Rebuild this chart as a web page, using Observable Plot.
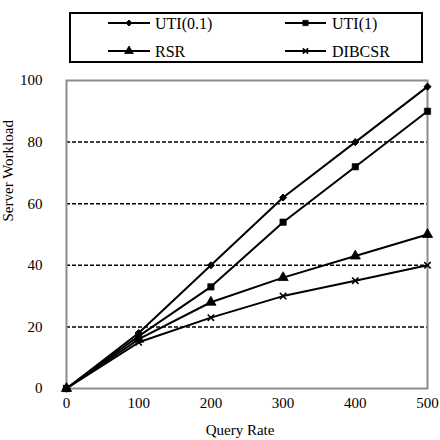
<!DOCTYPE html>
<html>
<head>
<meta charset="utf-8">
<script src="https://cdn.jsdelivr.net/npm/d3@7"></script>
<script src="https://cdn.jsdelivr.net/npm/@observablehq/plot@0.6"></script>
<style>
  html, body { margin: 0; padding: 0; background: #fff; }
  #wrap { width: 440px; height: 440px; font-family: "Liberation Serif", "DejaVu Serif", serif; }
</style>
</head>
<body>
<div id="wrap"></div>
<script>
const queryRates = [0, 100, 200, 300, 400, 500];
const uti01 = [0, 18, 40, 62, 80, 98];
const uti1 = [0, 17, 33, 54, 72, 90];
const rsr = [0, 16, 28, 36, 43, 50];
const dibcsr = [0, 15, 23, 30, 35, 40];
const seriesNames = ["UTI(0.1)", "UTI(1)", "RSR", "DIBCSR"];
const seriesSymbols = ["diamond2", "square", "triangle", "times"];
const xTicks = [0, 100, 200, 300, 400, 500];
const yTicks = [0, 20, 40, 60, 80, 100];
const gridValues = [20, 40, 60, 80];
const xTitle = "Query Rate";
const yTitle = "Server Workload";

const seriesValues = [uti01, uti1, rsr, dibcsr];
const data = [];
seriesNames.forEach((name, i) => {
  queryRates.forEach((q, j) => data.push({series: name, rate: q, load: seriesValues[i][j]}));
});

const font = "'Liberation Serif', 'DejaVu Serif', serif";
const wrap = document.getElementById("wrap");
const markerR = {"diamond2": 3.2, "square": 3.6, "triangle": 3.8, "times": 3};
const markerSW = {"diamond2": 1, "square": 0.6, "triangle": 0.8, "times": 1.6};

// Legend (above the plot)
const legendH = 78;
const leg = d3.create("svg").attr("width", 440).attr("height", legendH).style("display", "block");
leg.append("rect").attr("x", 70).attr("y", 13).attr("width", 352).attr("height", 49)
  .attr("fill", "none").attr("stroke", "black").attr("stroke-width", 2);
const symMap = {diamond2: d3.symbolDiamond2, square: d3.symbolSquare, triangle: d3.symbolTriangle, times: d3.symbolTimes};
const slots = [
  {x0: 108, x1: 150, y: 23, tx: 155},
  {x0: 285, x1: 326, y: 23, tx: 332},
  {x0: 108, x1: 150, y: 51, tx: 155},
  {x0: 285, x1: 326, y: 51, tx: 332}
];
seriesNames.forEach((name, i) => {
  const s = slots[i];
  const sym = seriesSymbols[i];
  const g = leg.append("g");
  g.append("line").attr("x1", s.x0).attr("x2", s.x1).attr("y1", s.y).attr("y2", s.y)
    .attr("stroke", "black").attr("stroke-width", 2);
  const rr = markerR[sym] * 0.85;
  g.append("path").attr("d", d3.symbol(symMap[sym], Math.PI * rr * rr)())
    .attr("transform", `translate(${(s.x0 + s.x1) / 2},${s.y})`)
    .attr("fill", "black").attr("stroke", "black").attr("stroke-width", markerSW[sym]);
  g.append("text").attr("x", s.tx).attr("y", s.y).attr("dy", "0.35em")
    .attr("font-family", font).attr("font-size", 16).attr("fill", "black").text(name);
});
wrap.appendChild(leg.node());

const dotMarks = seriesNames.map((name, i) =>
  Plot.dot(data.filter(d => d.series === name), {
    x: "rate", y: "load", symbol: seriesSymbols[i], r: markerR[seriesSymbols[i]],
    fill: "black", stroke: "black", strokeWidth: markerSW[seriesSymbols[i]]
  })
);

const chart = Plot.plot({
  width: 440,
  height: 440 - legendH,
  marginTop: 2,
  marginBottom: 52,
  marginLeft: 66,
  marginRight: 13,
  style: {fontFamily: font, fontSize: "15px", color: "black", background: "white", overflow: "visible"},
  x: {domain: [0, 500], ticks: xTicks},
  y: {domain: [0, 100], ticks: yTicks},
  marks: [
    Plot.ruleY(gridValues, {stroke: "black", strokeWidth: 1.5, strokeDasharray: "4,2"}),
    Plot.frame({stroke: "#8c8c8c", strokeWidth: 2}),
    Plot.axisX(xTicks, {tickSize: 0, tickPadding: 9, label: null, fontSize: 15}),
    Plot.axisY(yTicks, {tickSize: 0, tickPadding: 24, label: null, fontSize: 15}),
    Plot.line(data, {x: "rate", y: "load", z: "series", stroke: "black", strokeWidth: 2}),
    ...dotMarks,
    Plot.text([xTitle], {frameAnchor: "bottom", lineAnchor: "middle", dy: 42, dx: -7, fontSize: 15, fill: "black"}),
    Plot.text([yTitle], {frameAnchor: "left", rotate: -90, dx: -58, dy: -13, fontSize: 15, fill: "black"})
  ]
});
wrap.appendChild(chart);
</script>
</body>
</html>
